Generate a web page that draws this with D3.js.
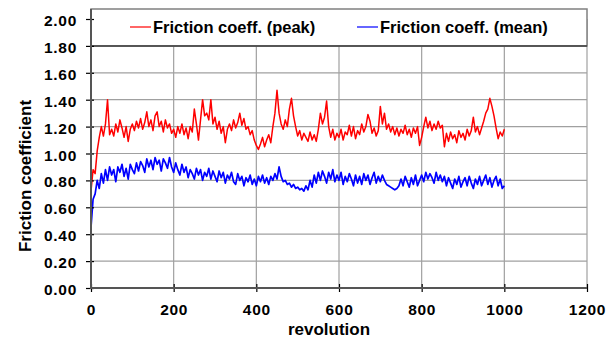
<!DOCTYPE html>
<html>
<head>
<meta charset="utf-8">
<script src="https://cdn.jsdelivr.net/npm/d3@7"></script>
<style>
body { margin: 0; background: #fff; }
svg text { font-family: "Liberation Sans", Arial, sans-serif; font-weight: bold; fill: #000; }
</style>
</head>
<body>
<svg id="chart" width="607" height="340"></svg>
<script>
// sampled every 5 revolutions, 0..1000
var revolution = d3.range(0, 1001, 5);

var peak = [
  0.72, 0.88, 0.85, 1.02, 1.12, 1.20, 1.13, 1.22, 1.40, 1.14,
  1.18, 1.13, 1.22, 1.16, 1.25, 1.19, 1.12, 1.20, 1.09, 1.18,
  1.22, 1.17, 1.24, 1.19, 1.26, 1.18, 1.23, 1.31, 1.20, 1.25,
  1.17, 1.28, 1.31, 1.20, 1.24, 1.16, 1.25, 1.19, 1.22, 1.15,
  1.18, 1.12, 1.20, 1.15, 1.22, 1.14, 1.19, 1.11, 1.20, 1.16,
  1.33, 1.22, 1.10, 1.25, 1.40, 1.28, 1.30, 1.25, 1.40, 1.22,
  1.27, 1.18, 1.24, 1.15, 1.20, 1.08, 1.18, 1.22, 1.17, 1.25,
  1.19, 1.23, 1.30, 1.21, 1.26, 1.18, 1.20, 1.14, 1.17, 1.10,
  1.06, 1.03, 1.07, 1.12, 1.05, 1.10, 1.14, 1.08, 1.20, 1.30,
  1.47, 1.30, 1.22, 1.18, 1.25, 1.20, 1.33, 1.41, 1.28, 1.20,
  1.13, 1.17, 1.10, 1.15, 1.12, 1.09, 1.16, 1.10, 1.14, 1.09,
  1.18, 1.30, 1.22, 1.27, 1.39, 1.20, 1.12, 1.18, 1.10, 1.15,
  1.12, 1.18, 1.10, 1.16, 1.14, 1.21, 1.13, 1.20, 1.11, 1.17,
  1.14, 1.22, 1.16, 1.20, 1.29, 1.24, 1.15, 1.19, 1.13, 1.17,
  1.35, 1.22, 1.30, 1.18, 1.22, 1.16, 1.20, 1.14, 1.19, 1.13,
  1.18, 1.15, 1.21, 1.14, 1.18, 1.12, 1.19, 1.15, 1.20, 1.06,
  1.12, 1.20, 1.27, 1.19, 1.24, 1.17, 1.22, 1.18, 1.24, 1.19,
  1.21, 1.05, 1.15, 1.09, 1.16, 1.11, 1.14, 1.08, 1.17, 1.12,
  1.15, 1.10, 1.18, 1.13, 1.17, 1.27, 1.16, 1.20, 1.14, 1.19,
  1.24, 1.30, 1.33, 1.41, 1.35, 1.28, 1.19, 1.11, 1.16, 1.13,
  1.18
];

var mean = [
  0.45, 0.66, 0.70, 0.80, 0.74, 0.85, 0.78, 0.88, 0.80, 0.90,
  0.84, 0.88, 0.79, 0.90, 0.86, 0.92, 0.83, 0.89, 0.81, 0.92,
  0.88, 0.85, 0.93, 0.87, 0.94, 0.91, 0.86, 0.96, 0.90, 0.95,
  0.88, 0.97, 0.92, 0.95, 0.87, 0.96, 0.93, 0.89, 0.97, 0.90,
  0.86, 0.93, 0.88, 0.84, 0.92, 0.86, 0.90, 0.82, 0.88, 0.85,
  0.81, 0.89, 0.84, 0.88, 0.80, 0.86, 0.83, 0.89, 0.81, 0.87,
  0.83, 0.79, 0.87, 0.82, 0.86, 0.78, 0.84, 0.81, 0.86, 0.79,
  0.77, 0.85, 0.80, 0.83, 0.76, 0.82, 0.79, 0.84, 0.77, 0.81,
  0.76, 0.83, 0.79, 0.84, 0.78, 0.82, 0.77, 0.83, 0.80, 0.85,
  0.81, 0.90, 0.83, 0.79, 0.80, 0.77, 0.78, 0.75, 0.77, 0.74,
  0.75, 0.73, 0.74, 0.72, 0.76, 0.73, 0.80, 0.75, 0.84, 0.78,
  0.86, 0.80, 0.87, 0.83, 0.78, 0.86, 0.81, 0.88, 0.79, 0.84,
  0.80, 0.86, 0.77, 0.83, 0.79, 0.85, 0.81, 0.76, 0.84, 0.78,
  0.83, 0.77, 0.85, 0.80, 0.84, 0.77, 0.82, 0.86, 0.78, 0.83,
  0.79, 0.84, 0.80, 0.77, 0.76, 0.75, 0.74, 0.73, 0.74, 0.76,
  0.81, 0.76, 0.83, 0.79, 0.75, 0.82, 0.77, 0.84, 0.76, 0.80,
  0.84, 0.79, 0.86, 0.81, 0.85, 0.82, 0.78, 0.86, 0.80, 0.84,
  0.79, 0.83, 0.76, 0.82, 0.78, 0.74, 0.81, 0.77, 0.83, 0.75,
  0.79, 0.82, 0.76, 0.83, 0.78, 0.74, 0.81, 0.77, 0.83, 0.76,
  0.80, 0.84, 0.77, 0.82, 0.75, 0.80, 0.83, 0.76, 0.81, 0.74,
  0.76
];

var xTicks = [0, 200, 400, 600, 800, 1000, 1200];
var yTicks = [0, 0.2, 0.4, 0.6, 0.8, 1.0, 1.2, 1.4, 1.6, 1.8, 2.0];
var seriesNames = ["Friction coeff. (peak)", "Friction coeff. (mean)"];
var seriesColors = ["#ff0000", "#0000ff"];

var margin = {left: 91, right: 20, top: 19, bottom: 52};
var width = 607, height = 340;
var plotRight = width - margin.right;
var zeroline = height - margin.bottom;

var svg = d3.select("#chart");

var xScale = d3.scaleLinear().domain([0, 1200]).range([margin.left, plotRight]);
var yScale = d3.scaleLinear().domain([0, 2]).range([zeroline, margin.top]);

// gridlines
svg.append("g")
  .attr("id", "hgrid")
  .selectAll("line")
  .data(yTicks.slice(1))
  .enter()
  .append("line")
  .attr("x1", margin.left)
  .attr("x2", plotRight)
  .attr("y1", function(d){ return yScale(d); })
  .attr("y2", function(d){ return yScale(d); })
  .style("stroke", "#a0a0a0")
  .style("stroke-width", 1.2);

svg.append("g")
  .attr("id", "vgrid")
  .selectAll("line")
  .data(xTicks.slice(1))
  .enter()
  .append("line")
  .attr("x1", function(d){ return xScale(d); })
  .attr("x2", function(d){ return xScale(d); })
  .attr("y1", margin.top)
  .attr("y2", zeroline)
  .style("stroke", "#a0a0a0")
  .style("stroke-width", 1.2);

// series lines
var series = [peak, mean];
var lineWidths = [1.5, 1.7];
series.forEach(function(vals, k){
  var line = d3.line()
    .x(function(d, i){ return xScale(revolution[i]); })
    .y(function(d){ return yScale(d); });
  svg.append("path")
    .datum(vals)
    .attr("d", line)
    .style("fill", "none")
    .style("stroke", seriesColors[k])
    .style("stroke-width", lineWidths[k])
    .style("stroke-linejoin", "round");
});

// legend box across the top of the plot
var legTop = 9, legBottom = yScale(1.8);
svg.append("rect")
  .attr("x", margin.left)
  .attr("y", legTop)
  .attr("width", plotRight - margin.left)
  .attr("height", legBottom - legTop)
  .style("fill", "#fff")
  .style("stroke", "#808080")
  .style("stroke-width", 1.5);

svg.append("line")
  .attr("x1", margin.left)
  .attr("x2", plotRight)
  .attr("y1", legBottom)
  .attr("y2", legBottom)
  .style("stroke", "#404040")
  .style("stroke-width", 1.5);

var legX = [130, 357];
seriesNames.forEach(function(name, k){
  svg.append("line")
    .attr("x1", legX[k])
    .attr("x2", legX[k] + 21)
    .attr("y1", 27)
    .attr("y2", 27)
    .style("stroke", seriesColors[k])
    .style("stroke-width", 1.2);
  svg.append("text")
    .attr("x", legX[k] + 23)
    .attr("y", 33)
    .style("font-size", "16.5px")
    .text(name);
});

// axes
var yAxis = d3.axisLeft(yScale)
  .tickValues(yTicks)
  .tickFormat(d3.format(".2f"))
  .tickSizeOuter(0);
var gy = svg.append("g")
  .attr("transform", "translate(" + margin.left + ",0)")
  .call(yAxis);
gy.select(".domain").remove();
gy.selectAll(".tick line")
  .attr("x1", 3).attr("x2", -5)
  .style("stroke", "#000").style("stroke-width", 1.2);
gy.selectAll(".tick text")
  .attr("x", -14)
  .attr("dy", "0.42em")
  .style("font-size", "15.5px")
  .style("letter-spacing", "0.7px")
  .style("font-family", null);

var xAxis = d3.axisBottom(xScale)
  .tickValues(xTicks)
  .tickFormat(d3.format("d"))
  .tickSizeOuter(0);
var gx = svg.append("g")
  .attr("transform", "translate(0," + zeroline + ")")
  .call(xAxis);
gx.select(".domain").remove();
gx.selectAll(".tick line")
  .attr("y1", -4).attr("y2", 4)
  .style("stroke", "#000").style("stroke-width", 1.2);
gx.selectAll(".tick text")
  .attr("y", 27)
  .attr("dy", null)
  .style("font-size", "15.5px")
  .style("letter-spacing", "0.7px")
  .style("font-family", null);

// axis lines
svg.append("line")
  .attr("x1", margin.left).attr("x2", margin.left)
  .attr("y1", legTop).attr("y2", zeroline + 1)
  .style("stroke", "#555").style("stroke-width", 2);
svg.append("line")
  .attr("x1", margin.left).attr("x2", plotRight)
  .attr("y1", zeroline).attr("y2", zeroline)
  .style("stroke", "#555").style("stroke-width", 2);

// axis titles
svg.append("text")
  .attr("text-anchor", "middle")
  .attr("x", 329)
  .attr("y", 335)
  .style("font-size", "17px")
  .text("revolution");

svg.append("text")
  .attr("text-anchor", "middle")
  .attr("transform", "translate(31,176) rotate(-90)")
  .style("font-size", "17px")
  .text("Friction coefficient");
</script>
</body>
</html>
